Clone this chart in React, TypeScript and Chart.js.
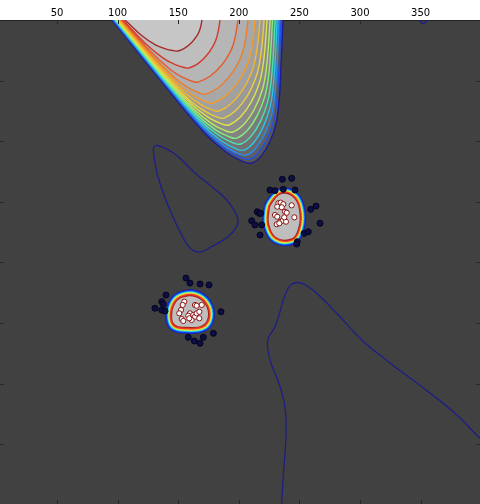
import { useEffect, useRef } from 'react';
import { Chart, registerables } from 'chart.js';

Chart.register(...registerables);

type Pair = [number, number];

// Axis extents in data units
const X_RANGE: Pair = [2.97, 398.97];
const Y_RANGE: Pair = [0, 399.3];

const xTicks = [50, 100, 150, 200, 250, 300, 350];
const yTicks = [50, 100, 150, 200, 250, 300, 350];

// Upper ridge iso-lines, innermost (highest level) first
const ridge01: Pair[] = [[106.1, 0], [119.8, 12.8], [131.2, 20.5], [139.5, 23.8], [146.1, 25.3], [149.8, 25.6], [155.7, 23.0], [161.3, 18.4], [165.2, 13.3], [167.2, 9.7], [168.6, 5.1], [169.6, 0]];
const ridge02: Pair[] = [[104.4, 0], [123.4, 19.8], [137.9, 31.7], [147.5, 36.8], [154.9, 39.2], [158.9, 39.6], [166.6, 35.8], [173.7, 28.9], [178.9, 21.1], [181.4, 15.5], [183.2, 8.2], [184.5, 0]];
const ridge03: Pair[] = [[103.6, 0], [126.8, 25.6], [143.7, 41.0], [154.3, 47.6], [162.1, 50.7], [166.3, 51.2], [176.2, 46.4], [185.4, 37.8], [192.0, 28.0], [195.3, 20.6], [197.6, 11.0], [199.3, 0]];
const ridge04: Pair[] = [[102.8, 0], [129.7, 30.6], [148.6, 48.9], [160.1, 56.8], [168.5, 60.5], [172.9, 61.1], [183.3, 55.7], [193.0, 45.7], [200.0, 34.4], [203.4, 25.6], [205.9, 13.5], [207.6, 0]];
const ridge05: Pair[] = [[102.0, 0], [131.8, 34.3], [152.3, 54.8], [164.8, 63.7], [173.8, 67.8], [178.7, 68.5], [189.1, 62.6], [198.8, 51.9], [205.8, 39.5], [209.2, 29.5], [211.7, 15.7], [213.4, 0]];
const ridge06: Pair[] = [[101.1, 0], [133.4, 37.6], [155.4, 60.1], [168.6, 69.8], [178.4, 74.3], [183.7, 75.1], [193.8, 68.9], [203.3, 57.5], [210.1, 44.4], [213.4, 33.3], [215.8, 17.7], [217.5, 0]];
const ridge07: Pair[] = [[100.3, 0], [134.7, 40.5], [157.8, 64.7], [171.8, 75.2], [182.2, 80.1], [187.8, 80.9], [197.7, 74.5], [206.9, 62.8], [213.5, 49.0], [216.8, 37.0], [219.2, 19.7], [220.8, 0]];
const ridge08: Pair[] = [[99.8, 0], [136.3, 43.3], [160.7, 69.3], [175.2, 80.5], [185.9, 85.7], [191.9, 86.6], [201.3, 80.1], [210.1, 68.0], [216.4, 53.7], [219.5, 40.7], [221.7, 21.7], [223.3, 0]];
const ridge09: Pair[] = [[99.3, 0], [137.8, 46.2], [163.2, 73.9], [178.2, 85.9], [189.2, 91.5], [195.2, 92.4], [204.4, 85.8], [212.9, 73.4], [219.1, 58.6], [222.1, 44.6], [224.3, 23.7], [225.8, 0]];
const ridge10: Pair[] = [[98.8, 0], [139.1, 48.7], [165.4, 77.9], [180.8, 90.6], [192.2, 96.4], [198.5, 97.4], [207.3, 90.8], [215.5, 78.3], [221.4, 63.2], [224.3, 48.3], [226.3, 25.7], [227.8, 0]];
const ridge11: Pair[] = [[98.2, 0], [140.2, 51.2], [167.4, 81.8], [183.4, 95.1], [195.2, 101.3], [201.8, 102.3], [210.2, 95.8], [218.1, 83.2], [223.7, 67.8], [226.5, 52.1], [228.5, 27.7], [229.9, 0]];
const ridge12: Pair[] = [[97.6, 0], [141.4, 53.7], [169.5, 85.8], [185.7, 99.8], [197.6, 106.2], [204.3, 107.3], [212.5, 100.8], [220.1, 88.2], [225.6, 72.6], [228.3, 55.9], [230.2, 29.9], [231.6, 0]];
const ridge13: Pair[] = [[97.0, 0], [142.2, 55.7], [171.0, 89.1], [187.7, 103.6], [199.9, 110.3], [206.7, 111.4], [214.6, 105.0], [222.0, 92.6], [227.3, 77.0], [229.9, 59.5], [231.8, 31.9], [233.1, 0]];
const ridge14: Pair[] = [[96.2, 0], [142.6, 57.4], [172.0, 91.8], [189.2, 106.7], [201.9, 113.6], [209.2, 114.7], [216.9, 108.5], [224.0, 96.5], [229.2, 81.0], [231.7, 62.7], [233.5, 33.6], [234.8, 0]];
const ridge15: Pair[] = [[95.4, 0], [142.9, 59.0], [172.9, 94.4], [190.4, 109.7], [203.4, 116.8], [210.9, 118.0], [218.6, 112.1], [225.7, 100.3], [230.8, 85.0], [233.3, 66.1], [234.9, 35.4], [236.4, 0]];

const ridgeLines = [ridge01, ridge02, ridge03, ridge04, ridge05, ridge06, ridge07, ridge08, ridge09, ridge10, ridge11, ridge12, ridge13, ridge14, ridge15];
const ridgeColors = ['#a52a2a', '#d23a2e', '#e65a2c', '#ef7c2a', '#f29c2c', '#f2b830', '#eccf3a', '#dde24a', '#b6ec62', '#82ee82', '#4ce2b4', '#2ec4e6', '#2a8cf0', '#2452e0', '#1c1c96'];
const ridgeShades = ['#c6c6c6', '#bebebe', '#b6b6b6', '#afafaf', '#a8a8a8', '#a1a1a1', '#9a9a9a', '#939393', '#8b8b8b', '#838383', '#7a7a7a', '#717171', '#686868', '#5f5f5f', '#555555'];

// Lowest level: detached iso-lines
const loopMid: Pair[] = [[143.2, 156.8], [151.5, 174.7], [159.7, 188.1], [168.0, 191.4], [177.6, 187.0], [191.1, 178.8], [198.2, 170.5], [199.3, 165.0], [196.8, 158.2], [188.6, 146.9], [177.6, 137.5], [163.8, 126.2], [152.9, 115.5], [144.6, 108.7], [135.0, 104.0], [130.8, 104.0], [129.4, 107.3], [133.3, 129.3]];
const tailRight: Pair[] = [[235.2, 401], [236.7, 375.4], [238.7, 347.9], [238.7, 325.9], [236.7, 311.9], [232.6, 298.4], [227.1, 284.6], [223.8, 270.8], [224.3, 262.6], [229.8, 253.0], [234.0, 240.7], [238.1, 226.9], [243.6, 218.0], [251.9, 217.2], [262.8, 224.2], [282.1, 243.4], [301.4, 264.0], [323.3, 281.9], [350.9, 302.5], [378.4, 324.5], [399.0, 345.1], [415.5, 358.9]];
const nubTop: Pair[] = [[349.0, -1], [350.5, 2.2], [353.0, 2.6], [355.5, 0.6], [356.5, -1]];
const lowLevelColor = '#1e1e84';

// Cluster cores: inner edge of each ring stack
const clusterAEdge: Pair[] = [[227.2, 151.6], [235.6, 143.6], [245.7, 147.3], [250.0, 160.1], [248.4, 173.5], [243.3, 180.3], [231.3, 179.4], [225.3, 169.3], [225.3, 157.4]];
const clusterBEdge: Pair[] = [[148.0, 233.3], [153.9, 229.0], [163.8, 228.5], [172.3, 234.9], [174.4, 245.0], [169.8, 251.8], [157.2, 253.1], [147.1, 251.0], [145.1, 242.6]];
const ringColors = ['#1a1a8c', '#1438e8', '#1c8cf4', '#22d8e8', '#6cf29a', '#d2f04a', '#fac832', '#ee3a24', '#a81e1e'];
const ringWidthsA = [13, 12, 10, 9, 8, 7, 6, 4.5, 2];
const ringWidthsB = [14, 13, 10.5, 9.5, 8.5, 7.5, 6.5, 5, 2];
const coreFill = '#bebebe';

// Samples
const clusterAOuter: Pair[] = [[235.9, 131.4], [243.6, 130.6], [225.7, 140.3], [229.8, 140.8], [236.7, 139.7], [246.3, 140.3], [215.2, 158.2], [216.9, 159.5], [210.6, 165.6], [213.3, 169.1], [218.0, 159.5], [218.9, 169.1], [217.5, 177.4], [259.3, 156.2], [263.7, 153.5], [267.0, 167.7], [253.8, 176.0], [257.3, 174.7], [248.2, 182.9], [247.7, 184.8]];
const clusterBOuter: Pair[] = [[156.4, 212.9], [159.7, 217.0], [168.0, 217.8], [175.4, 218.6], [139.9, 226.9], [136.4, 232.4], [137.7, 234.5], [130.8, 237.8], [136.4, 239.3], [139.1, 240.1], [185.3, 240.7], [179.0, 258.5], [170.7, 261.8], [158.3, 261.8], [163.3, 264.8], [168.0, 266.7]];
const clusterAInner: Pair[] = [[232.6, 151.2], [234.5, 150.7], [236.7, 152.0], [231.7, 154.0], [235.4, 154.5], [243.6, 152.9], [238.1, 158.2], [229.8, 160.9], [231.7, 162.3], [234.0, 166.4], [236.2, 165.6], [238.9, 166.4], [237.5, 162.8], [245.8, 162.8], [239.5, 159.0], [231.3, 168.5], [233.4, 167.7]];
const clusterBInner: Pair[] = [[155.0, 232.4], [153.7, 235.1], [152.3, 239.3], [150.9, 242.0], [163.8, 235.1], [165.2, 235.7], [169.4, 235.1], [159.7, 242.0], [158.3, 244.0], [162.4, 243.4], [163.8, 244.8], [165.2, 242.0], [167.4, 240.7], [167.4, 246.1], [152.9, 246.7], [154.2, 248.3], [161.1, 247.5], [159.1, 246.1]];

const toXY = (pts: Pair[]) => pts.map(([x, y]) => ({ x, y }));

const lineSet = (pts: Pair[], color: string, width: number, extra: any = {}) => ({
  data: toXY(pts),
  showLine: true,
  pointRadius: 0,
  pointHoverRadius: 0,
  borderColor: color,
  borderWidth: width,
  borderJoinStyle: 'round',
  tension: 0.4,
  fill: false,
  clip: 0,
  ...extra,
});

// Closed curve: repeat the first three vertices and hide the two unsmoothed end pieces
const loopSet = (ring: Pair[], color: string, width: number, extra: any = {}) => {
  const last = ring.length + 1;
  return lineSet([...ring, ring[0], ring[1], ring[2]], color, width, {
    segment: {
      borderColor: (c: any) => (c.p0DataIndex === 0 || c.p0DataIndex === last ? 'rgba(0,0,0,0)' : color),
    },
    ...extra,
  });
};

const pointSet = (pts: Pair[], fillColor: string, edge: string, radius: number) => ({
  data: toXY(pts),
  showLine: false,
  pointRadius: radius,
  pointHoverRadius: radius,
  pointBackgroundColor: fillColor,
  pointBorderColor: edge,
  pointBorderWidth: 1,
  clip: 0,
});

function tracePath(chart: any, index: number) {
  const ctx = chart.ctx;
  const meta = chart.getDatasetMeta(index);
  const line = meta.dataset;
  ctx.beginPath();
  if (line && typeof line.path === 'function') {
    if (typeof line.updateControlPoints === 'function') line.updateControlPoints(chart.chartArea, 'x');
    line.path(ctx);
  } else {
    meta.data.forEach((p: any, j: number) => (j ? ctx.lineTo(p.x, p.y) : ctx.moveTo(p.x, p.y)));
  }
  ctx.closePath();
}

function clipArea(chart: any) {
  const { ctx, chartArea: a } = chart;
  ctx.beginPath();
  ctx.rect(a.left, a.top, a.right - a.left, a.bottom - a.top);
  ctx.clip();
}

const paintPlugin = {
  id: 'densityPaint',
  beforeDraw(chart: any) {
    const { ctx, chartArea: a } = chart;
    ctx.save();
    ctx.fillStyle = '#414141';
    ctx.fillRect(a.left, a.top, a.right - a.left, a.bottom - a.top);
    ctx.restore();
  },
  beforeDatasetsDraw(chart: any) {
    const ctx = chart.ctx;
    ctx.save();
    clipArea(chart);
    chart.data.datasets.forEach((ds: any, i: number) => {
      if (!ds.shade) return;
      tracePath(chart, i);
      ctx.fillStyle = ds.shade;
      ctx.fill();
    });
    ctx.restore();
  },
  afterDatasetDraw(chart: any, args: any) {
    const ds = chart.data.datasets[args.index];
    if (!ds || !ds.coreFill) return;
    const ctx = chart.ctx;
    ctx.save();
    clipArea(chart);
    tracePath(chart, args.index);
    ctx.fillStyle = ds.coreFill;
    ctx.fill();
    ctx.restore();
  },
  afterDraw(chart: any) {
    const { ctx, chartArea: a, scales } = chart;
    const len = 4;
    ctx.save();
    ctx.strokeStyle = '#262626';
    ctx.lineWidth = 1;
    ctx.beginPath();
    xTicks.forEach((v) => {
      const px = Math.round(scales.x.getPixelForValue(v)) + 0.5;
      ctx.moveTo(px, a.top);
      ctx.lineTo(px, a.top + len);
      ctx.moveTo(px, a.bottom);
      ctx.lineTo(px, a.bottom - len);
    });
    yTicks.forEach((v) => {
      const py = Math.round(scales.y.getPixelForValue(v)) + 0.5;
      ctx.moveTo(a.left, py);
      ctx.lineTo(a.left + len, py);
      ctx.moveTo(a.right, py);
      ctx.lineTo(a.right - len, py);
    });
    ctx.stroke();
    ctx.restore();
  },
};

function buildDatasets() {
  const stack: any[] = [];
  // ridge: outermost first so lighter inner shades land on top
  for (let k = ridgeLines.length - 1; k >= 0; k--) {
    stack.push(lineSet(ridgeLines[k], ridgeColors[k], 1.4, { shade: ridgeShades[k] }));
  }
  stack.push(loopSet(loopMid, lowLevelColor, 1.3));
  stack.push(lineSet(tailRight, lowLevelColor, 1.3));
  stack.push(lineSet(nubTop, lowLevelColor, 1.3));
  ringColors.forEach((c, i) => {
    stack.push(loopSet(clusterAEdge, c, ringWidthsA[i], i === ringColors.length - 1 ? { coreFill } : {}));
  });
  ringColors.forEach((c, i) => {
    stack.push(loopSet(clusterBEdge, c, ringWidthsB[i], i === ringColors.length - 1 ? { coreFill } : {}));
  });
  stack.push(pointSet(clusterAOuter, '#0e0e46', '#04041c', 3));
  stack.push(pointSet(clusterBOuter, '#0e0e46', '#04041c', 3));
  stack.push(pointSet(clusterAInner, '#ffffff', '#8c1414', 2.6));
  stack.push(pointSet(clusterBInner, '#ffffff', '#8c1414', 2.6));
  // later entries are painted above earlier ones
  return stack.map((d, i) => ({ ...d, order: stack.length - i }));
}

export default function App() {
  const canvasRef = useRef<HTMLCanvasElement | null>(null);

  useEffect(() => {
    if (!canvasRef.current) return;
    const chart = new Chart(canvasRef.current, {
      type: 'scatter',
      data: { datasets: buildDatasets() },
      options: {
        animation: false,
        responsive: false,
        events: [],
        layout: { padding: 0, autoPadding: false },
        elements: { line: { capBezierPoints: false } },
        plugins: { legend: { display: false }, tooltip: { enabled: false } },
        scales: {
          x: {
            type: 'linear',
            position: 'top',
            min: X_RANGE[0],
            max: X_RANGE[1],
            afterBuildTicks: (s: any) => {
              s.ticks = xTicks.map((v) => ({ value: v }));
            },
            afterFit: (s: any) => {
              s.height = 20;
            },
            grid: { display: false, drawTicks: false },
            border: { display: true, color: '#222222', width: 1 },
            ticks: {
              color: '#000000',
              padding: 1,
              maxRotation: 0,
              autoSkip: false,
              font: { family: 'DejaVu Sans', size: 10 },
            },
          },
          y: {
            type: 'linear',
            display: false,
            reverse: true,
            min: Y_RANGE[0],
            max: Y_RANGE[1],
          },
        },
      } as any,
      plugins: [paintPlugin],
    });
    return () => chart.destroy();
  }, []);

  return (
    <div style={{ position: 'absolute', left: 0, top: 0, width: 480, height: 504, background: '#ffffff' }}>
      <canvas ref={canvasRef} width={480} height={504} style={{ display: 'block' }} />
    </div>
  );
}
